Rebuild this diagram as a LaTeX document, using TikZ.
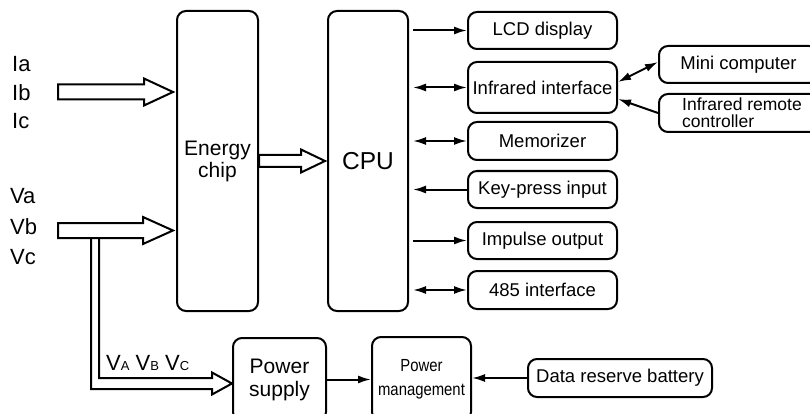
\documentclass[tikz,border=0pt]{standalone}
\usepackage{fontspec}
\usepackage{graphicx}
\setmainfont{Liberation Sans}
\usetikzlibrary{arrows.meta,calc}

% hollow block arrow: from, to, body half width, head half width, head length
\newcommand{\fatarrow}[5]{%
  \draw[hollow] let \p1=#1, \p2=#2 in
    (\x1,\y2+#3) -- (\x2-#5,\y2+#3) -- (\x2-#5,\y2+#4) -- (\x2,\y2)
    -- (\x2-#5,\y2-#4) -- (\x2-#5,\y2-#3) -- (\x1,\y2-#3) -- cycle;}
\newcommand{\narrow}[1]{\scalebox{0.85}[1]{#1}}

\begin{document}
\begin{tikzpicture}[
    x=1pt, y=-1pt,
    every node/.style={inner sep=0pt},
    block/.style={rectangle, draw, rounded corners=9pt, line width=2pt, align=center},
    unit/.style={block, minimum width=149pt, font=\fontsize{18.5}{18.5}\selectfont},
    sig/.style={-{Latex[length=13pt,width=8pt]}, line width=2pt},
    bisig/.style={{Latex[length=13pt,width=8pt]}-{Latex[length=13pt,width=8pt]}, line width=2pt},
    hollow/.style={draw, line width=2pt, line join=miter}
]
\useasboundingbox (0,0) rectangle (810,414);
\clip (0,0) rectangle (810,414);

% Input labels
\node (iabc) [anchor=west, align=left, font=\fontsize{22}{28.5}\selectfont] at (12,92.6) {Ia\\Ib\\Ic};
\node (vabc) [anchor=west, align=left, font=\fontsize{22}{30.5}\selectfont] at (10,226.6) {Va\\Vb\\Vc};

% Energy chip and CPU
\node (energy) [block, minimum width=81pt, minimum height=300pt, font=\fontsize{21}{22}\selectfont] at (217.5,161) {Energy\\chip};
\node (cpu) [block, minimum width=80pt, minimum height=300pt, font=\fontsize{24.5}{24.5}\selectfont] at (368,161) {CPU};

% Peripherals of the CPU
\node (lcd) [unit, minimum height=37pt] at (542.5,30.5) {LCD display};
\node (infra) [unit, minimum height=51pt] at (542.5,87.5) {Infrared interface};
\node (memo) [unit, minimum height=38pt] at (542.5,141) {Memorizer};
\node (key) [unit, minimum height=37pt] at (542.5,189.5) {Key-press input};
\node (impulse) [unit, minimum height=37pt] at (542.5,240.5) {Impulse output};
\node (rs) [unit, minimum height=38pt] at (542.5,290) {485 interface};

% Infrared partners
\node (mini) [unit, minimum width=159pt, minimum height=37pt] at (738.5,64.5) {Mini computer};
\node (remote) [unit, minimum width=166pt, minimum height=38pt, align=left, font=\fontsize{17.5}{17}\selectfont] at (742,113) {Infrared remote\\controller};

% Power chain
\node (supply) [block, minimum width=93pt, minimum height=83pt, font=\fontsize{21}{23}\selectfont] at (279.5,379.5) {Power\\supply};
\node (manage) [block, minimum width=99pt, minimum height=84pt, font=\fontsize{17.5}{24}\selectfont] at (421.5,379) {\narrow{Power}\\\narrow{management}};
\node (battery) [block, minimum width=184pt, minimum height=38pt, font=\fontsize{18.5}{18.5}\selectfont] at (620,378) {Data reserve battery};
\node (vsub) [anchor=base west, font=\fontsize{22}{22}\selectfont] at (106,370) {V{\fontsize{13}{13}\selectfont A} V{\fontsize{13}{13}\selectfont B} V{\fontsize{13}{13}\selectfont C}};

% Hollow signal arrows
\coordinate (iin) at (58,92);
\coordinate (vin) at (58,230.5);
\coordinate (vtap) at (95,238);
\fatarrow{(iin)}{([xshift=-3pt]energy.west |- iin)}{7.5pt}{13.5pt}{29pt}
\fatarrow{(vin)}{([xshift=-3pt]energy.west |- vin)}{7.5pt}{13.5pt}{30pt}
\fatarrow{(energy.east)}{([xshift=-2pt]cpu.west)}{6pt}{11.5pt}{24pt}
\draw[hollow] let \p1=(vtap), \p2=([yshift=-4pt]supply.west) in
  (\x1-4pt,\y1) |- (\x2-20pt,\y2-5.5pt) -- (\x2-20pt,\y2-11pt) -- (\x2,\y2)
  -- (\x2-20pt,\y2+11pt) -- (\x2-20pt,\y2+5.5pt) -| (\x1+4pt,\y1);

% CPU buses
\draw[sig] ([xshift=4pt]cpu.east |- lcd.west) -- (lcd.west);
\draw[bisig] ([xshift=4pt]cpu.east |- infra.west) -- (infra.west);
\draw[bisig] ([xshift=4pt]cpu.east |- memo.west) -- (memo.west);
\draw[sig] (key.west) -- ([xshift=4pt]cpu.east |- key.west);
\draw[sig] ([xshift=4pt]cpu.east |- impulse.west) -- (impulse.west);
\draw[bisig] ([xshift=4pt]cpu.east |- rs.west) -- (rs.west);

% Infrared links
\draw[bisig] ([yshift=5.5pt]infra.east) -- ([yshift=2.5pt]mini.west);
\draw[sig] (remote.west) -- ([yshift=-11.5pt]infra.east);

% Power links
\draw[sig] (supply.east) -- (supply.east -| manage.west);
\draw[sig] (battery.west) -- (battery.west -| manage.east);

\end{tikzpicture}
\end{document}
